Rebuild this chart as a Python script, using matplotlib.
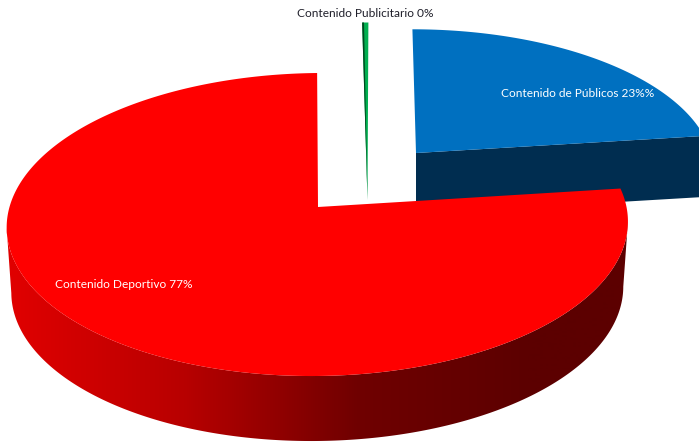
import numpy as np
import matplotlib
matplotlib.use('Agg')
import matplotlib.pyplot as plt
from matplotlib.colors import LinearSegmentedColormap
from matplotlib.patches import Polygon

# share of each slice, clockwise from 12 o'clock
slice_values = [23.0, 76.64, 0.36]
slice_labels = ['Contenido de Públicos 23%%', 'Contenido Deportivo 77%', 'Contenido Publicitario 0%']

W, H = 699, 443
PERSP = 0.1155


def project(frac, apex, radius, height, skew):
    theta = 2 * np.pi * np.asarray(frac)
    px, py = np.sin(theta), np.cos(theta)
    den = 1 + PERSP * py
    x = apex[0] + (radius * px + skew * py) / den
    y = apex[1] - height * py / den
    return x, y


def face(start, end, apex, radius, height, skew, n=300):
    fr = np.linspace(start, end, n)
    x, y = project(fr, apex, radius, height, skew)
    return np.r_[apex[0], x], np.r_[apex[1], y]


fig = plt.figure(figsize=(W / 100, H / 100), dpi=100)
ax = fig.add_axes([0, 0, 1, 1])

total = sum(slice_values)
bounds = np.cumsum([0] + slice_values) / total

# blue slice, its cut wall shows below the face
apex = (416, 153)
radius, height, skew = 295, 138, -4
bx, by = project(bounds[1], apex, radius, height, skew)
ax.fill([apex[0], bx, bx, apex[0]], [apex[1], by, by + 61, apex[1] + 61], color='#002d50', lw=0)
x, y = face(bounds[0], bounds[1], apex, radius, height, skew)
ax.fill(x, y, color='#0070c0', lw=0)

# green sliver
apex = (367.5, 200)
radius, height, skew = 309, 198, 1
x, y = face(bounds[2], bounds[3], apex, radius, height, skew, n=10)
ax.fill(x, y, color='#00b050', lw=0)
gx, gy = project(bounds[2], apex, radius, height, skew)
gx2, gy2 = project(bounds[2] + 0.3 * (bounds[3] - bounds[2]), apex, radius, height, skew)
ax.fill([gx, gx2, apex[0]], [gy, gy2, apex[1]], color='#00481f', lw=0)

# red slice, side wall shaded left to right
apex = (318, 207)
radius, height, skew = 308.5, 149.5, 6
side = LinearSegmentedColormap.from_list('side', ['#e00000', '#b80000', '#700000', '#5c0000'])
fr = np.linspace(bounds[1], bounds[2], 800)
top_x, top_y = project(fr, apex, radius, height, skew)
bot_x, bot_y = project(fr, (apex[0], apex[1] + 65), radius * 0.985, height, skew)
i0, i1 = top_x.argmax(), top_x.argmin()
wall = np.c_[np.r_[top_x[i0:i1], bot_x[i0:i1][::-1]], np.r_[top_y[i0:i1], bot_y[i0:i1][::-1]]]
# gradient is flat outside 10..530
shade = np.clip((np.arange(0, W + 1) - 10) / 520, 0, 1).reshape(1, -1)
grad = ax.imshow(shade, cmap=side, extent=(0, W, H, 0), aspect='auto', zorder=3)
grad.set_clip_path(Polygon(wall, transform=ax.transData))
x, y = face(bounds[1], bounds[2], apex, radius, height, skew, n=600)
ax.fill(x, y, color='#ff0000', lw=0, zorder=4)

ax.set_xlim(0, W)
ax.set_ylim(H, 0)
ax.axis('off')

font = 'Lato'
ax.text(578, 93, slice_labels[0], color='white', fontsize=8.6, ha='center', va='center', family=font, zorder=5)
ax.text(124, 284, slice_labels[1], color='white', fontsize=8.6, ha='center', va='center', family=font, zorder=5)
ax.text(365, 13, slice_labels[2], color='#1f1f2a', fontsize=8.6, ha='center', va='center', family=font, zorder=5)

fig.savefig('out.png', dpi=100)
